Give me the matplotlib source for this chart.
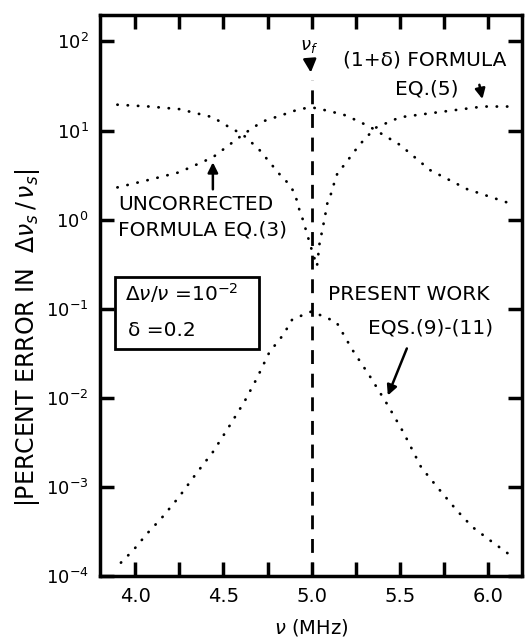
import matplotlib.pyplot as plt
import numpy as np

# frequency (MHz) and percent error
nu_uncorr = [3.90, 4.08, 4.25, 4.44, 4.61, 4.72, 4.84, 4.93, 5.00, 5.05, 5.18, 5.27, 5.34, 5.50, 5.67, 5.88, 6.11]
err_uncorr = [2.3, 2.8, 3.4, 5.0, 9.0, 12.6, 15.1, 17.4, 18.2, 17.4, 15.1, 12.6, 10.7, 6.9, 3.6, 2.2, 1.55]

nu_delta = [3.90, 4.08, 4.25, 4.44, 4.53, 4.61, 4.70, 4.82, 4.85, 4.89, 4.92, 4.93, 4.95, 5.00, 5.03, 5.045,
            5.057, 5.074, 5.09, 5.114, 5.13, 5.15, 5.18, 5.27, 5.36, 5.50, 5.69, 5.97, 6.12]
err_delta = [19.5, 18.6, 17.4, 14.1, 11.0, 9.0, 6.2, 3.2, 2.8, 2.2, 1.58, 1.29, 1.0, 0.46, 0.30, 0.55,
             0.71, 1.05, 1.58, 2.05, 2.7, 3.5, 4.0, 6.9, 10.7, 14.1, 15.8, 18.6, 18.6]

nu_present = [3.92, 3.99, 4.07, 4.15, 4.25, 4.35, 4.44, 4.53, 4.62, 4.69, 4.76, 4.84, 4.89, 5.00,
              5.14, 5.23, 5.33, 5.43, 5.52, 5.62, 5.71, 5.82, 5.91, 6.01, 6.12]
log_present = [-3.85, -3.71, -3.52, -3.35, -3.11, -2.84, -2.61, -2.33, -2.04, -1.78, -1.49, -1.29, -1.12, -1.03,
               -1.15, -1.46, -1.76, -2.08, -2.39, -2.78, -3.00, -3.26, -3.45, -3.60, -3.76]
err_present = [10 ** v for v in log_present]

nu_f = 5.0

plt.rcParams['font.family'] = 'DejaVu Sans'

fig = plt.figure(figsize=(5.25, 6.4), dpi=100)
ax = fig.add_axes([0.19, 0.1, 0.804, 0.877])

dot = dict(color='black', linewidth=2.0, linestyle=(0, (0.1, 3.6)), dash_capstyle='round')
ax.plot(nu_uncorr, err_uncorr, **dot)
ax.plot(nu_delta, err_delta, **dot)
ax.plot(nu_present, err_present, **dot)

ax.axvline(nu_f, ymin=0, ymax=0.884, color='black', linewidth=2, linestyle=(0, (5, 3.5)))

ax.set_yscale('log')
ax.set_xlim(3.8, 6.19)
ax.set_ylim(1e-4, 10 ** 2.3)
ax.set_xticks([4.0, 4.5, 5.0, 5.5, 6.0])
ax.set_xticklabels(['4.0', '4.5', '5.0', '5.5', '6.0'])
ax.set_xticks(np.arange(4.25, 6.1, 0.5), minor=True)
ax.set_yticks([1e-4, 1e-3, 1e-2, 1e-1, 1e0, 1e1, 1e2])
ax.yaxis.set_minor_locator(plt.NullLocator())

ax.tick_params(which='both', direction='in', top=True, right=True, length=10, width=2.5)
ax.tick_params(axis='x', labelsize=14, pad=8)
ax.tick_params(axis='y', labelsize=13, pad=8)
for s in ax.spines.values():
    s.set_linewidth(2.5)

ax.set_xlabel(r'$\nu$ (MHz)', fontsize=14, labelpad=8)
fig.text(0.053, 0.472, r'|PERCENT ERROR IN  $\Delta\nu_s\,/\,\nu_s$|', rotation=90,
         fontsize=17, ha='center', va='center')

# annotations
arrow = dict(arrowstyle='-|>,head_length=0.6,head_width=0.3', color='black', lw=1.8)
ax.annotate(r'$\nu_f$', xy=(0.5, 0.897), xytext=(0.495, 0.945), xycoords='axes fraction',
            fontsize=13, ha='center', va='center',
            arrowprops=dict(arrow, shrinkA=6, shrinkB=0))

fs = 14.5
ax.text(0.576, 0.92, '(1+δ) FORMULA', transform=ax.transAxes, fontsize=fs, ha='left', va='center')
ax.text(0.699, 0.868, 'EQ.(5)', transform=ax.transAxes, fontsize=fs, ha='left', va='center')
ax.annotate('', xy=(0.908, 0.845), xytext=(0.898, 0.880), xycoords='axes fraction', arrowprops=arrow)

ax.text(0.043, 0.661, 'UNCORRECTED', transform=ax.transAxes, fontsize=fs, ha='left', va='center')
ax.text(0.043, 0.617, 'FORMULA EQ.(3)', transform=ax.transAxes, fontsize=fs, ha='left', va='center')
ax.annotate('', xy=(0.268, 0.742), xytext=(0.268, 0.684), xycoords='axes fraction', arrowprops=arrow)

ax.text(0.540, 0.501, 'PRESENT WORK', transform=ax.transAxes, fontsize=fs, ha='left', va='center')
ax.text(0.635, 0.442, 'EQS.(9)-(11)', transform=ax.transAxes, fontsize=fs, ha='left', va='center')
ax.annotate('', xy=(0.680, 0.317), xytext=(0.730, 0.410), xycoords='axes fraction', arrowprops=arrow)

box = plt.Rectangle((0.036, 0.405), 0.341, 0.128, transform=ax.transAxes,
                    fill=False, edgecolor='black', linewidth=2)
ax.add_patch(box)
ax.text(0.059, 0.504, r'$\Delta\nu/\nu$ =10$^{-2}$', transform=ax.transAxes, fontsize=fs, ha='left', va='center')
ax.text(0.066, 0.438, 'δ =0.2', transform=ax.transAxes, fontsize=fs, ha='left', va='center')

plt.savefig('out.png', dpi=100)
